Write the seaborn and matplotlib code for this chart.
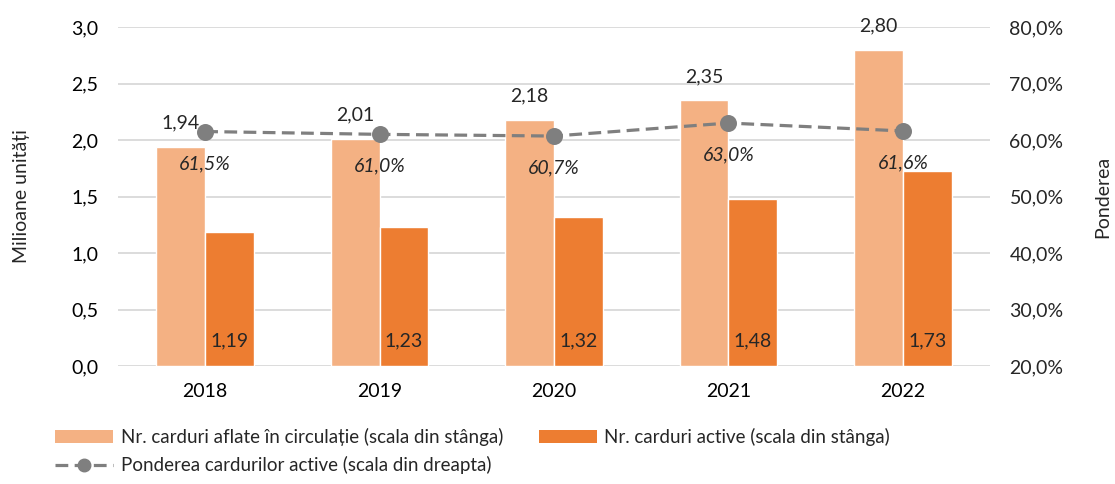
import matplotlib
matplotlib.use("Agg")
import matplotlib.pyplot as plt
import seaborn as sns
import pandas as pd
from matplotlib.patches import Patch
from matplotlib.lines import Line2D

years = ["2018", "2019", "2020", "2021", "2022"]
cards_circulation = [1.94, 2.01, 2.18, 2.35, 2.80]
cards_active = [1.19, 1.23, 1.32, 1.48, 1.73]
share_active = [61.5, 61.0, 60.7, 63.0, 61.6]

s_circ = "Nr. carduri aflate în circulație (scala din stânga)"
s_act = "Nr. carduri active (scala din stânga)"
s_share = "Ponderea cardurilor active (scala din dreapta)"
left_label = "Milioane unități"
right_label = "Ponderea"

c_light = "#F4B183"
c_dark = "#ED7D31"
c_line = "#7F7F7F"

sns.set_theme(style="white")
plt.rcParams["font.family"] = ["Lato", "DejaVu Sans"]
FS = 14

df = pd.DataFrame({
    "year": years * 2,
    "value": cards_circulation + cards_active,
    "series": [s_circ] * len(years) + [s_act] * len(years),
})

fig = plt.figure(figsize=(11.15, 4.84), dpi=100)
ax = fig.add_axes([118 / 1115, 1 - 366 / 484, (990 - 118) / 1115, (366 - 27) / 484])

sns.barplot(data=df, x="year", y="value", hue="series", hue_order=[s_circ, s_act],
            palette={s_circ: c_light, s_act: c_dark}, width=0.56, ax=ax,
            saturation=1, legend=False, zorder=2)

ax.set_ylim(0, 3.0)
ax.set_yticks([0, 0.5, 1.0, 1.5, 2.0, 2.5, 3.0])
ax.set_yticklabels([f"{v:.1f}".replace(".", ",") for v in [0, 0.5, 1.0, 1.5, 2.0, 2.5, 3.0]])
ax.set_xlim(-0.5, 4.5)
ax.grid(axis="y", color="#D9D9D9", linewidth=1.3, zorder=0)
ax.set_axisbelow(True)
for sp in ax.spines.values():
    sp.set_visible(False)
ax.tick_params(axis="both", length=0, labelsize=FS, colors="#000000")
ax.tick_params(axis="y", pad=14)
ax.tick_params(axis="x", pad=12)
ax.set_xlabel("")
ax.set_ylabel(left_label, fontsize=FS, labelpad=30)

# bar labels
for patch, v in zip(ax.containers[0], cards_circulation):
    xc = patch.get_x() + patch.get_width() / 2
    ax.annotate(f"{v:.2f}".replace(".", ","), (xc, patch.get_height()), xytext=(0, 17),
                textcoords="offset points", ha="center", va="center", fontsize=FS)
for patch, v in zip(ax.containers[1], cards_active):
    xc = patch.get_x() + patch.get_width() / 2
    ax.annotate(f"{v:.2f}".replace(".", ","), (xc, 0), xytext=(0, 18),
                textcoords="offset points", ha="center", va="center", fontsize=FS)

ax2 = ax.twinx()
sns.pointplot(x=years, y=share_active, ax=ax2, color=c_line, errorbar=None,
              linestyle="--", marker="o", markersize=10.5, linewidth=2.3)
for ln in ax2.lines:
    ln.set_dashes([4, 2])
ax2.set_ylim(20, 80)
ax2.set_yticks([20, 30, 40, 50, 60, 70, 80])
ax2.set_yticklabels([f"{v:.1f}%".replace(".", ",") for v in [20, 30, 40, 50, 60, 70, 80]])
ax2.set_xlim(-0.5, 4.5)
for sp in ax2.spines.values():
    sp.set_visible(False)
ax2.tick_params(axis="y", length=0, labelsize=FS, pad=14)
ax2.set_ylabel(right_label, fontsize=FS, labelpad=22)
ax2.grid(False)

for i, v in enumerate(share_active):
    ax2.annotate(f"{v:.1f}%".replace(".", ","), (i, v), xytext=(0, -23),
                 textcoords="offset points", ha="center", va="center",
                 fontsize=FS, fontstyle="italic")

handles = [
    Patch(facecolor=c_light, edgecolor="none"),
    Line2D([0], [0], color=c_line, linestyle=(0, (4, 2)), linewidth=2.3,
           marker="o", markersize=9),
    Patch(facecolor=c_dark, edgecolor="none"),
]
labels = [s_circ, s_share, s_act]
fig.legend(handles, labels, loc="upper left", bbox_to_anchor=(55 / 1115, 1 - 428 / 484),
           ncol=2, frameon=False, fontsize=13.5, handlelength=3.1, handleheight=0.7,
           handletextpad=0.4, columnspacing=1.9, labelspacing=0.55,
           borderpad=0, borderaxespad=0)

fig.savefig("out.png", dpi=100)
